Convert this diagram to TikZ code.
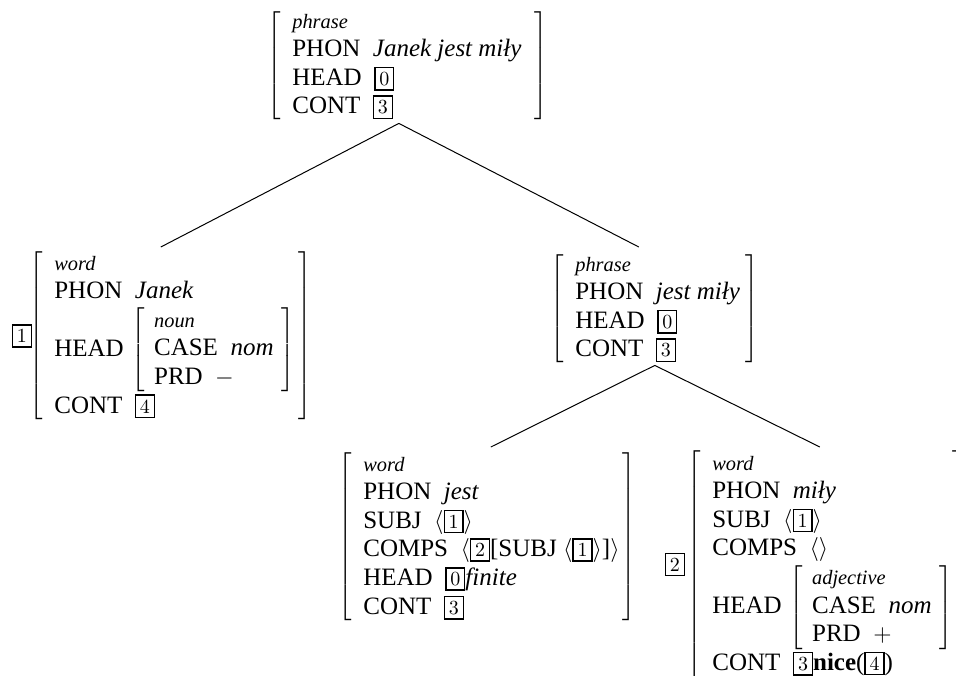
\documentclass[tikz,border=0pt]{standalone}
\usepackage{fontspec}
\setmainfont{Liberation Serif}
\newfontfamily\tagfont{Latin Modern Roman}
\usetikzlibrary{positioning}
\tikzset{
	defaultstyle/.style={
		x=0.5pt, y=-0.5pt,
		line width=0.5pt}}
\newcommand{\tagbox}[1]{{\setlength{\fboxsep}{1.8pt}\setlength{\fboxrule}{0.75pt}%
	\fbox{\tagfont\fontsize{10}{10}\selectfont #1}}}
\newcommand{\ftype}[1]{{\fontsize{10.2}{12}\selectfont\itshape #1}}
\newcommand{\feat}[2]{#1\enspace#2}
\newcommand{\avm}[2]{$\left[\begin{tabular}{@{\hspace{6pt}}p{#1}@{}}#2\end{tabular}\right]$}
\newcommand{\subavm}[1]{$\left[\begin{tabular}{@{\hspace{4.5pt}}l@{\hspace{4pt}}}#1\end{tabular}\right]$}

\begin{document}
\begin{tikzpicture}[defaultstyle,
	avmnode/.style={inner sep=0pt, outer sep=0pt, font=\fontsize{12.5}{14.3}\selectfont},
	tagnode/.style={inner sep=0pt, outer sep=0pt},
	]
	\useasboundingbox (0,0) rectangle (956,675);

	\node[avmnode, anchor=north west] (top) at (267, 8) {\avm{121pt}{\ftype{phrase}\\
		\feat{PHON}{\textit{Janek jest miły}}\\
		\feat{HEAD}{\tagbox{0}}\\
		\feat{CONT}{\tagbox{3}}}};

	\node[avmnode, anchor=north west] (jan) at (29, 250) {\avm{122pt}{\ftype{word}\\
		\feat{PHON}{\textit{Janek}}\\
		\mbox{HEAD\hspace{4pt}\subavm{\ftype{noun}\\
			\feat{CASE}{\textit{nom}}\\
			\feat{PRD}{$-$}}}\\
		\feat{CONT}{\tagbox{4}}}};
	\node[tagnode, left=-1.5pt of jan] (tag1) {\tagbox{1}};

	\node[avmnode, anchor=north west] (vp) at (550, 251) {\avm{85pt}{\ftype{phrase}\\
		\feat{PHON}{\textit{jest miły}}\\
		\feat{HEAD}{\tagbox{0}}\\
		\feat{CONT}{\tagbox{3}}}};

	\node[avmnode, anchor=north west] (jest) at (338, 451) {\avm{129.5pt}{\ftype{word}\\
		\feat{PHON}{\textit{jest}}\\
		\feat{SUBJ}{$\langle$\tagbox{1}$\rangle$}\\
		\feat{COMPS}{$\langle$\tagbox{2}[SUBJ $\langle$\tagbox{1}$\rangle$]$\rangle$}\\
		\feat{HEAD}{\tagbox{0}\textit{finite}}\\
		\feat{CONT}{\tagbox{3}}}};

	\node[avmnode, anchor=north west] (mily) at (687, 450) {\avm{120pt}{\ftype{word}\\
		\feat{PHON}{\textit{miły}}\\
		\feat{SUBJ}{$\langle$\tagbox{1}$\rangle$}\\
		\feat{COMPS}{$\langle\rangle$}\\
		\mbox{HEAD\hspace{4pt}\subavm{\ftype{adjective}\\
			\feat{CASE}{\textit{nom}}\\
			\feat{PRD}{$+$}}}\\
		\feat{CONT}{\tagbox{3}\textbf{nice}(\tagbox{4})}}};
	\node[tagnode, left=1pt of mily] (tag2) {\tagbox{2}};

	% tree
	\draw ([shift={(-8.5,1)}]top.south) -- ([shift={(-9.5,-3)}]jan.north);
	\draw ([shift={(-8.5,1)}]top.south) -- ([shift={(-15.5,-4)}]vp.north);
	\draw ([shift={(0.5,0)}]vp.south) -- ([shift={(4,-4)}]jest.north);
	\draw ([shift={(0.5,0)}]vp.south) -- ([shift={(-6.5,-3)}]mily.north);

\end{tikzpicture}
\end{document}
